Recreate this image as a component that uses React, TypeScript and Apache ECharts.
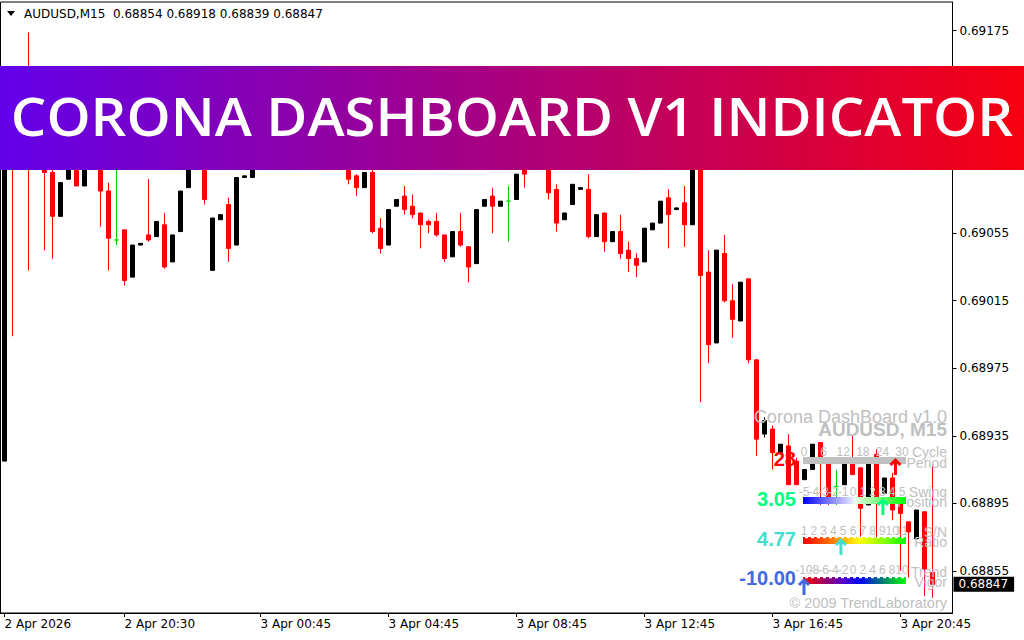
import React, { useEffect, useRef } from 'react';
import * as echarts from 'echarts';

// ---------- DATA ----------
const symbolTitle = 'AUDUSD,M15';
const lastOHLC = [0.68854, 0.68918, 0.68839, 0.68847];
const lastPrice = 0.68847;

// OHLC of the 117 M15 bars (2 Apr 16:45 ... 3 Apr 21:45)
const open = [
  0.68920, 0.69135, 0.69105, 0.69130, 0.69105, 0.69110, 0.69091, 0.69065, 0.69087, 0.69105,
  0.69083, 0.69110, 0.69115, 0.69080, 0.69051, 0.69057, 0.69029, 0.69048, 0.69054, 0.69053,
  0.69060, 0.69038, 0.69056, 0.69082, 0.69110, 0.69100, 0.69033, 0.69063, 0.69072, 0.69048,
  0.69088, 0.69088, 0.69100, 0.69112, 0.69105, 0.69125, 0.69135, 0.69122, 0.69110, 0.69128,
  0.69115, 0.69130, 0.69112, 0.69097, 0.69089, 0.69082, 0.69091, 0.69058, 0.69048, 0.69071,
  0.69077, 0.69071, 0.69067, 0.69062, 0.69062, 0.69054, 0.69041, 0.69056, 0.69047, 0.69037,
  0.69071, 0.69077, 0.69071, 0.69074, 0.69075, 0.69095, 0.69095, 0.69115, 0.69100, 0.69081,
  0.69063, 0.69072, 0.69081, 0.69081, 0.69053, 0.69067, 0.69050, 0.69056, 0.69045, 0.69040,
  0.69038, 0.69057, 0.69061, 0.69076, 0.69069, 0.69073, 0.69060, 0.69098, 0.69032, 0.68990,
  0.69043, 0.69015, 0.69003, 0.69028, 0.68980, 0.68936, 0.68939, 0.68925, 0.68929, 0.68920,
  0.68909, 0.68915, 0.68931, 0.68922, 0.68905, 0.68906, 0.68920, 0.68916, 0.68894, 0.68924,
  0.68901, 0.68910, 0.68895, 0.68884, 0.68874, 0.68890, 0.68854,
];
const high = [
  0.69130, 0.69140, 0.69130, 0.69174, 0.69125, 0.69120, 0.69100, 0.69085, 0.69105, 0.69110,
  0.69115, 0.69130, 0.69120, 0.69085, 0.69100, 0.69057, 0.69048, 0.69049, 0.69087, 0.69062,
  0.69067, 0.69054, 0.69080, 0.69105, 0.69120, 0.69105, 0.69064, 0.69066, 0.69076, 0.69088,
  0.69089, 0.69105, 0.69118, 0.69120, 0.69130, 0.69142, 0.69140, 0.69128, 0.69132, 0.69134,
  0.69138, 0.69135, 0.69118, 0.69102, 0.69090, 0.69091, 0.69095, 0.69064, 0.69069, 0.69075,
  0.69083, 0.69078, 0.69067, 0.69063, 0.69067, 0.69054, 0.69056, 0.69067, 0.69047, 0.69069,
  0.69075, 0.69082, 0.69074, 0.69083, 0.69090, 0.69100, 0.69120, 0.69125, 0.69105, 0.69084,
  0.69067, 0.69084, 0.69082, 0.69090, 0.69066, 0.69067, 0.69056, 0.69066, 0.69050, 0.69043,
  0.69058, 0.69061, 0.69074, 0.69081, 0.69070, 0.69083, 0.69105, 0.69105, 0.69045, 0.69045,
  0.69054, 0.69025, 0.69026, 0.69028, 0.68980, 0.68946, 0.68941, 0.68930, 0.68936, 0.68922,
  0.68915, 0.68930, 0.68931, 0.68922, 0.68915, 0.68922, 0.68935, 0.68916, 0.68920, 0.68927,
  0.68910, 0.68913, 0.68897, 0.68884, 0.68891, 0.68890, 0.68918,
];
const low = [
  0.68920, 0.68994, 0.69100, 0.69033, 0.69098, 0.69045, 0.69040, 0.69065, 0.69087, 0.69083,
  0.69083, 0.69100, 0.69059, 0.69033, 0.69048, 0.69024, 0.69029, 0.69048, 0.69050, 0.69053,
  0.69034, 0.69038, 0.69056, 0.69082, 0.69095, 0.69072, 0.69033, 0.69063, 0.69038, 0.69048,
  0.69088, 0.69088, 0.69097, 0.69100, 0.69102, 0.69120, 0.69115, 0.69104, 0.69106, 0.69108,
  0.69110, 0.69105, 0.69096, 0.69084, 0.69077, 0.69082, 0.69055, 0.69043, 0.69048, 0.69071,
  0.69066, 0.69064, 0.69046, 0.69055, 0.69053, 0.69038, 0.69041, 0.69047, 0.69026, 0.69037,
  0.69071, 0.69055, 0.69071, 0.69050, 0.69075, 0.69082, 0.69093, 0.69096, 0.69075, 0.69056,
  0.69063, 0.69072, 0.69081, 0.69052, 0.69053, 0.69044, 0.69050, 0.69040, 0.69032, 0.69029,
  0.69038, 0.69057, 0.69061, 0.69046, 0.69069, 0.69047, 0.69060, 0.68955, 0.68978, 0.68990,
  0.69014, 0.68993, 0.69003, 0.68978, 0.68923, 0.68934, 0.68915, 0.68925, 0.68906, 0.68906,
  0.68909, 0.68915, 0.68894, 0.68894, 0.68894, 0.68906, 0.68912, 0.68875, 0.68894, 0.68875,
  0.68901, 0.68885, 0.68855, 0.68851, 0.68874, 0.68840, 0.68839,
];
const close = [
  0.69125, 0.69110, 0.69125, 0.69105, 0.69118, 0.69091, 0.69065, 0.69085, 0.69100, 0.69083,
  0.69110, 0.69120, 0.69080, 0.69052, 0.69051, 0.69027, 0.69048, 0.69049, 0.69051, 0.69062,
  0.69035, 0.69054, 0.69080, 0.69100, 0.69100, 0.69075, 0.69064, 0.69066, 0.69046, 0.69088,
  0.69089, 0.69100, 0.69112, 0.69105, 0.69125, 0.69135, 0.69122, 0.69110, 0.69128, 0.69115,
  0.69130, 0.69112, 0.69100, 0.69087, 0.69082, 0.69091, 0.69056, 0.69046, 0.69069, 0.69075,
  0.69069, 0.69066, 0.69060, 0.69060, 0.69054, 0.69040, 0.69056, 0.69048, 0.69035, 0.69069,
  0.69075, 0.69071, 0.69074, 0.69074, 0.69090, 0.69090, 0.69115, 0.69100, 0.69079, 0.69061,
  0.69067, 0.69084, 0.69082, 0.69053, 0.69066, 0.69050, 0.69056, 0.69043, 0.69040, 0.69036,
  0.69058, 0.69061, 0.69074, 0.69066, 0.69070, 0.69060, 0.69100, 0.69030, 0.68989, 0.69045,
  0.69015, 0.69004, 0.69026, 0.68980, 0.68933, 0.68944, 0.68925, 0.68930, 0.68906, 0.68906,
  0.68915, 0.68930, 0.68922, 0.68897, 0.68905, 0.68922, 0.68912, 0.68892, 0.68920, 0.68896,
  0.68910, 0.68891, 0.68889, 0.68878, 0.68891, 0.68856, 0.68847,
];

const SLOTS = 119; // 117 bars + 2 empty slots at the right edge
const xTickIndex = [0, 15, 32, 48, 64, 80, 96, 112];
const xTickText = ['2 Apr 2026', '2 Apr 20:30', '3 Apr 00:45', '3 Apr 04:45', '3 Apr 08:45', '3 Apr 12:45', '3 Apr 16:45', '3 Apr 20:45'];
const yTicks = [0.68855, 0.68895, 0.68935, 0.68975, 0.69015, 0.69055, 0.69095, 0.69135, 0.69175];
const yMin = 0.6883;
const yMax = 0.69192;

const bannerTitle = 'CORONA DASHBOARD V1 INDICATOR';

// dashboard
const dashTitle = 'Corona DashBoard v1.0';
const dashSymbol = 'AUDUSD, M15';
const dashCopyright = '\u00a9 2009 TrendLaboratory';
const dashLabelTop = ['Cycle', 'Swing', 'S/N', 'Trend'];
const dashLabelBottom = ['Period', 'Position', 'Ratio', 'Vigor'];
const dashValues = [28, 3.05, 4.77, -10.0];
const dashValueText = ['28', '3.05', '4.77', '-10.00'];
const dashMin = [0, -5, 1, -10];
const dashMax = [30, 5, 11, 10];
const dashScale = [
  [0, 6, 12, 18, 24, 30],
  [-5, -4, -3, -2, -1, 0, 1, 2, 3, 4, 5],
  [1, 2, 3, 4, 5, 6, 7, 8, 9, 10, 11],
  [-10, -8, -6, -4, -2, 0, 2, 4, 6, 8, 10],
];
const dashColors = ['#ff0000', '#00ff7f', '#40e0d0', '#4169e1'];

// ---------- helpers ----------
function pad(n: number) {
  return n < 10 ? '0' + n : '' + n;
}
function makeCategories() {
  const out: string[] = [];
  let day = 2, h = 16, m = 45;
  for (let i = 0; i < SLOTS; i++) {
    out.push(`${day} Apr ${pad(h)}:${pad(m)}`);
    m += 15;
    if (m >= 60) { m -= 60; h++; if (h >= 24) { h = 0; day++; } }
  }
  return out;
}
function measure(text: string, font: string) {
  const ctx = document.createElement('canvas').getContext('2d');
  if (!ctx) return text.length * 30;
  ctx.font = font;
  return ctx.measureText(text).width;
}

const GRAY = '#c0c0c0';
const DASH_FONT = '"Liberation Sans", Arial, sans-serif';

function buildGraphics() {
  const els: any[] = [];
  // header
  els.push({ type: 'polygon', z: 100, shape: { points: [[7, 11], [15, 11], [11, 16]] }, style: { fill: '#000' } });
  els.push({
    type: 'text', z: 100, x: 24, y: 14,
    style: {
      text: `${symbolTitle}  ${lastOHLC.map((v) => v.toFixed(5)).join(' ')}`,
      fill: '#000', font: '12px "DejaVu Sans", sans-serif', textVerticalAlign: 'middle',
    },
  });
  // banner
  els.push({
    type: 'rect', z: 200, shape: { x: 0, y: 66, width: 1024, height: 104 },
    style: {
      fill: new echarts.graphic.LinearGradient(0, 0, 1, 0, [
        { offset: 0, color: '#6200ea' },
        { offset: 0.5, color: '#ab007c' },
        { offset: 1, color: '#f70010' },
      ]),
    },
  });
  const bannerFont = '600 52px "Open Sans", sans-serif';
  const w = measure(bannerTitle, bannerFont);
  els.push({
    type: 'text', z: 201, x: 512, y: 116, scaleX: 1003 / w,
    style: { text: bannerTitle, fill: '#fff', font: bannerFont, textAlign: 'center', textVerticalAlign: 'middle' },
  });

  // dashboard
  const R = 947;
  els.push({ type: 'text', z: 100, x: R, y: 417, style: { text: dashTitle, fill: GRAY, font: `18px ${DASH_FONT}`, textAlign: 'right', textVerticalAlign: 'middle' } });
  els.push({ type: 'text', z: 100, x: R, y: 429, style: { text: dashSymbol, fill: GRAY, font: `bold 19px ${DASH_FONT}`, textAlign: 'right', textVerticalAlign: 'middle' } });
  els.push({ type: 'text', z: 100, x: R, y: 603, style: { text: dashCopyright, fill: GRAY, font: `14.5px ${DASH_FONT}`, textAlign: 'right', textVerticalAlign: 'middle' } });

  const X0 = 804, X1 = 902, BAR_L = 803, BAR_R = 906;
  const numY = [452, 492, 531, 570];
  const barTop = [457, 497, 537, 577];
  const labTopY = [452, 492, 532, 572];
  const labBotY = [463, 502, 542, 582];
  const valY = [459, 499, 539, 578];
  const fills: any[] = [
    GRAY,
    new echarts.graphic.LinearGradient(0, 0, 1, 0, [
      { offset: 0, color: '#0000ff' }, { offset: 0.5, color: '#f0f0ff' },
      { offset: 0.5, color: '#e8ffe8' }, { offset: 1, color: '#00ff00' },
    ]),
    new echarts.graphic.LinearGradient(0, 0, 1, 0, [
      { offset: 0, color: '#ff0000' }, { offset: 0.3, color: '#ff8000' },
      { offset: 0.55, color: '#ffff00' }, { offset: 0.8, color: '#80ff00' }, { offset: 1, color: '#00ff00' },
    ]),
    new echarts.graphic.LinearGradient(0, 0, 1, 0, [
      { offset: 0, color: '#ff0000' }, { offset: 0.2, color: '#a00060' }, { offset: 0.4, color: '#5000d0' },
      { offset: 0.55, color: '#0000ff' }, { offset: 0.75, color: '#007080' }, { offset: 1, color: '#00ff00' },
    ]),
  ];
  for (let r = 0; r < 4; r++) {
    const sc = dashScale[r];
    const toX = (v: number) => X0 + ((v - dashMin[r]) / (dashMax[r] - dashMin[r])) * (X1 - X0);
    sc.forEach((v) => {
      els.push({ type: 'text', z: 100, x: toX(v), y: numY[r], style: { text: String(v), fill: GRAY, font: `12px ${DASH_FONT}`, textAlign: 'center', textVerticalAlign: 'middle' } });
    });
    els.push({ type: 'text', z: 100, x: R, y: labTopY[r], style: { text: dashLabelTop[r], fill: GRAY, font: `14px ${DASH_FONT}`, textAlign: 'right', textVerticalAlign: 'middle' } });
    els.push({ type: 'text', z: 100, x: R, y: labBotY[r], style: { text: dashLabelBottom[r], fill: GRAY, font: `14px ${DASH_FONT}`, textAlign: 'right', textVerticalAlign: 'middle' } });
    els.push({ type: 'rect', z: 101, shape: { x: BAR_L, y: barTop[r], width: BAR_R - BAR_L, height: 7 }, style: { fill: fills[r] } });
    if (r >= 2) {
      els.push({ type: 'line', z: 102, shape: { x1: BAR_L + 2, y1: barTop[r] + 0.5, x2: BAR_R, y2: barTop[r] + 0.5 }, style: { stroke: '#fff', lineWidth: 1.5, lineDash: [3, 3] } });
    }
    els.push({ type: 'text', z: 100, x: 796, y: valY[r], style: { text: dashValueText[r], fill: dashColors[r], font: `bold 20px ${DASH_FONT}`, textAlign: 'right', textVerticalAlign: 'middle' } });
    const ax = toX(dashValues[r]);
    const at = barTop[r] + 2;
    els.push({ type: 'polyline', z: 103, shape: { points: [[ax - 5, at + 6], [ax, at + 1], [ax + 5, at + 6]] }, style: { stroke: dashColors[r], lineWidth: 3, fill: null } });
    els.push({ type: 'line', z: 103, shape: { x1: ax, y1: at + 1, x2: ax, y2: at + 16 }, style: { stroke: dashColors[r], lineWidth: 3 } });
  }
  return els;
}

export default function App() {
  const ref = useRef<HTMLDivElement>(null);
  useEffect(() => {
    if (!ref.current) return;
    const chart = echarts.init(ref.current, undefined, { renderer: 'svg' });
    const categories = makeCategories();
    const candleData = open.map((o, i) => [o, close[i], low[i], high[i]]);
    const tickSet = new Set(xTickIndex);
    const axisFont = '"DejaVu Sans", sans-serif';
    chart.setOption({
      animation: false,
      backgroundColor: '#fff',
      grid: { left: 0.5, right: 71.5, top: 2, bottom: 27, show: true, borderColor: '#000', borderWidth: 1, backgroundColor: 'transparent' },
      xAxis: {
        type: 'category', data: categories, boundaryGap: true,
        axisLine: { show: true, lineStyle: { color: '#000', width: 1 } },
        axisTick: { show: true, alignWithLabel: true, length: 4, interval: (i: number) => tickSet.has(i), lineStyle: { color: '#000' } },
        axisLabel: {
          show: true, interval: (i: number) => tickSet.has(i), align: 'left', margin: 5,
          formatter: (_v: string, i: number) => xTickText[xTickIndex.indexOf(i)] || '',
          color: '#000', fontFamily: axisFont, fontSize: 12,
        },
        splitLine: { show: false },
      },
      yAxis: [
        {
          type: 'value', position: 'right', min: yMin, max: yMax, scale: true,
          axisLine: { show: true, lineStyle: { color: '#000', width: 1 } },
          axisTick: { show: true, length: 4, customValues: yTicks, lineStyle: { color: '#000' } },
          axisLabel: {
            show: true, customValues: yTicks, margin: 7, formatter: (v: number) => v.toFixed(5),
            color: '#000', fontFamily: axisFont, fontSize: 12,
          },
          splitLine: { show: false },
        },
        {
          type: 'value', position: 'right', min: yMin, max: yMax, scale: true,
          axisLine: { show: false }, axisTick: { show: false }, splitLine: { show: false },
          axisLabel: {
            show: true, customValues: [lastPrice], margin: 1, formatter: (v: number) => v.toFixed(5),
            color: '#fff', backgroundColor: '#000', padding: [2, 6, 1, 5], fontFamily: axisFont, fontSize: 12,
          },
        },
      ],
      series: [
        {
          type: 'candlestick', data: candleData, barWidth: 4, yAxisIndex: 0,
          itemStyle: {
            color: '#000000', color0: '#ff0000', borderColor: '#000000', borderColor0: '#ff0000',
            borderColorDoji: '#00d000', borderWidth: 1,
          },
        },
      ],
      graphic: { elements: buildGraphics() },
    });
    return () => chart.dispose();
  }, []);
  return <div ref={ref} style={{ position: 'fixed', left: 0, top: 0, width: 1024, height: 640, background: '#fff' }} />;
}
